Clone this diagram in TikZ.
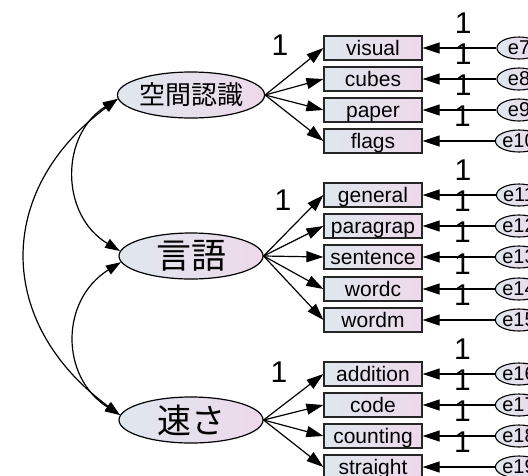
\documentclass[tikz,border=0pt]{standalone}
\usepackage{fontspec}
\setmainfont{Liberation Sans}
\newfontfamily\jpfont{Noto Sans CJK JP}
\usetikzlibrary{arrows.meta,shapes.geometric}

\definecolor{fillL}{HTML}{DFE7EE}
\definecolor{fillR}{HTML}{EDD9EA}

\tikzset{
  latent/.style={ellipse, draw=black, line width=1.2pt, minimum width=144pt,
    minimum height=46pt, inner sep=0pt, left color=fillL, right color=fillR},
  obsbox/.style={rectangle, draw=black!85, line width=1.2pt, minimum width=98pt,
    minimum height=24pt, inner sep=0pt, text height=15.5pt, text depth=1pt,
    left color=fillL, right color=fillR, font=\fontsize{21}{21}\selectfont},
  errnode/.style={ellipse, draw=black, line width=1.1pt, minimum width=44pt,
    minimum height=22pt, inner sep=0pt, left color=fillL, right color=fillR,
    font=\fontsize{20}{20}\selectfont},
  loadpath/.style={line width=1.2pt, -{Triangle[length=17pt,width=11pt]}},
  errpath/.style={line width=1.2pt, -{Triangle[length=17pt,width=11pt]}},
  covpath/.style={line width=1.2pt,
    {Triangle[length=15pt,width=10pt]}-{Triangle[length=15pt,width=10pt]}},
  onelabel/.style={font=\fontsize{30}{30}\selectfont, inner sep=0pt},
}

\begin{document}
\begin{tikzpicture}[x=1pt,y=-1pt]
\useasboundingbox[fill=white] (0,0) rectangle (528,475);

% latent factors
\node[latent, font=\jpfont\fontsize{26}{26}\selectfont] (sp) at (191,95) {空間認識};
\node[latent, font=\jpfont\fontsize{35}{35}\selectfont] (lang) at (191,256) {言語};
\node[latent, font=\jpfont\fontsize{34}{34}\selectfont] (speed) at (191,420) {速さ};

% observed variables
\node[obsbox] (visual)   at (373,48)  {visual};
\node[obsbox] (cubes)    at (373,79)  {cubes};
\node[obsbox] (paper)    at (373,110) {paper};
\node[obsbox] (flags)    at (373,141) {flags};
\node[obsbox] (general)  at (373,195) {general};
\node[obsbox] (paragrap) at (373,226) {paragrap};
\node[obsbox] (sentence) at (373,257) {sentence};
\node[obsbox] (wordc)    at (373,289) {wordc};
\node[obsbox] (wordm)    at (373,320) {wordm};
\node[obsbox] (addition) at (373,374) {addition};
\node[obsbox] (code)     at (373,405) {code};
\node[obsbox] (counting) at (373,436) {counting};
\node[obsbox] (straight) at (373,467) {straight};

% error terms
\foreach \e/\y in {e7/48,e8/79,e9/110,e10/141,e11/195,e12/226,e13/257,e14/289,
                   e15/320,e16/374,e17/405,e18/436,e19/467}
  \node[errnode] (\e) at (519,\y) {\e};

% factor loadings
\foreach \v in {visual,cubes,paper,flags}
  \draw[loadpath] (sp.east) -- (\v.west);
\foreach \v in {general,paragrap,sentence,wordc,wordm}
  \draw[loadpath] (lang.east) -- (\v.west);
\foreach \v in {addition,code,counting,straight}
  \draw[loadpath] (speed.east) -- (\v.west);

% fixed loadings
\node[onelabel] (one1) at (280,45)  {1};
\node[onelabel] (one2) at (283,200) {1};
\node[onelabel] (one3) at (279,372) {1};

% error paths with fixed weights
\foreach \e/\v in {e7/visual,e8/cubes,e9/paper,e10/flags,e11/general,
                   e12/paragrap,e13/sentence,e14/wordc,e15/wordm,
                   e16/addition,e17/code,e18/counting,e19/straight}
  \draw[errpath] (\e.west) -- (\v.east)
    node[onelabel, pos=0.45, yshift=25pt] {1};

% covariances
\draw[covpath] (sp.183) .. controls (60,135) and (60,215) .. (lang.176);
\draw[covpath] (sp.183) .. controls (-5,190) and (-5,323) .. (speed.176);
\draw[covpath] (lang.185) .. controls (60,300) and (60,377) .. (speed.176);
\end{tikzpicture}
\end{document}
